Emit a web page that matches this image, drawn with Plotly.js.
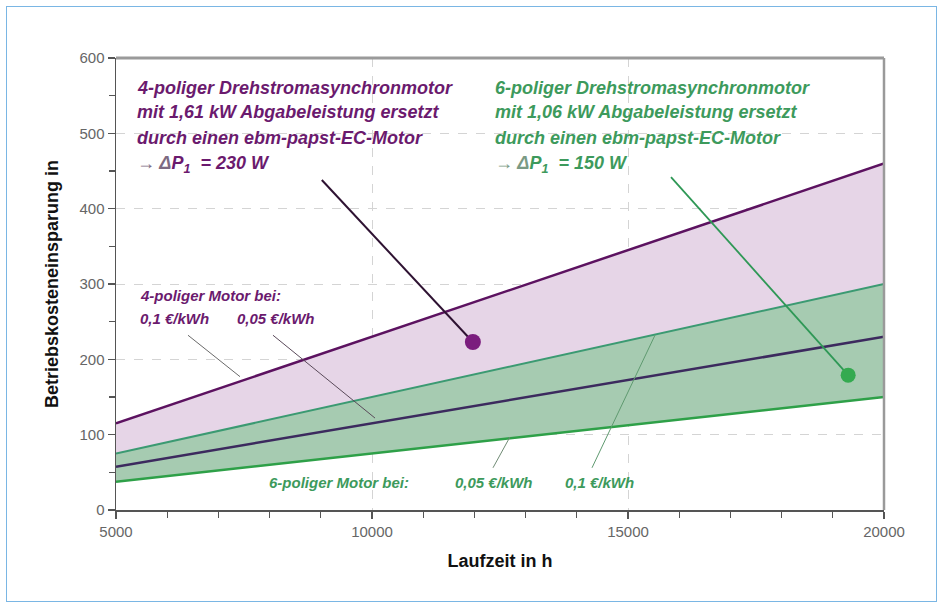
<!DOCTYPE html>
<html>
<head>
<meta charset="utf-8">
<script src="https://cdn.plot.ly/plotly-3.0.1.min.js"></script>
<style>
  html, body { margin: 0; padding: 0; background: #ffffff; }
  #chart { width: 942px; height: 608px; }
  #frame { position: absolute; left: 6px; top: 6px; width: 929px; height: 594px;
           border: 1px solid #7ab6e4; pointer-events: none; }
</style>
</head>
<body>
<div id="chart"></div>
<div id="frame"></div>
<script>
// ---- data ----
const hours = [5000, 10000, 15000, 20000];
const pol4_010 = [115, 230, 345, 460];     // 4-poliger Motor, 0,1 €/kWh
const pol4_005 = [57.5, 115, 172.5, 230];  // 4-poliger Motor, 0,05 €/kWh
const pol6_010 = [75, 150, 225, 300];      // 6-poliger Motor, 0,1 €/kWh
const pol6_005 = [37.5, 75, 112.5, 150];   // 6-poliger Motor, 0,05 €/kWh

// callout pointers (start of line, dot)
const ptr4_x = [9020, 11970];
const ptr4_y = [438, 223];
const ptr6_x = [15840, 19300];
const ptr6_y = [442, 179];

// leader lines for the small labels
const lead4_010_x = [6406, 7422];  const lead4_010_y = [232, 177];
const lead4_005_x = [8066, 10059]; const lead4_005_y = [232, 122];
const lead6_005_x = [12363, 12695]; const lead6_005_y = [56, 97];
const lead6_010_x = [14297, 15527]; const lead6_010_y = [56, 232];

const purple = '#6b1a6e';
const green = '#3d9a5c';
const FONT = 'Liberation Sans, Arial, sans-serif';

const traces = [
  // purple band
  {x: hours, y: pol4_005, mode: 'lines', line: {width: 0, color: 'rgba(0,0,0,0)'}},
  {x: hours, y: pol4_010, mode: 'lines', fill: 'tonexty', fillcolor: '#e6d5e7', line: {width: 0, color: 'rgba(0,0,0,0)'}},
  // green band
  {x: hours, y: pol6_005, mode: 'lines', line: {width: 0, color: 'rgba(0,0,0,0)'}},
  {x: hours, y: pol6_010, mode: 'lines', fill: 'tonexty', fillcolor: '#a6cbb1', line: {width: 0, color: 'rgba(0,0,0,0)'}},
  // lines
  {x: hours, y: pol6_010, mode: 'lines', line: {width: 2, color: '#3b9a72'}},
  {x: hours, y: pol6_005, mode: 'lines', line: {width: 2.5, color: '#2ea048'}},
  {x: hours, y: pol4_005, mode: 'lines', line: {width: 2.5, color: '#3c2a5e'}},
  {x: hours, y: pol4_010, mode: 'lines', line: {width: 2.5, color: '#5c1260'}},
  // leader lines
  {x: lead4_010_x, y: lead4_010_y, mode: 'lines', line: {width: 1, color: '#6a6a6a'}},
  {x: lead4_005_x, y: lead4_005_y, mode: 'lines', line: {width: 1, color: '#5a4a5a'}},
  {x: lead6_005_x, y: lead6_005_y, mode: 'lines', line: {width: 1, color: '#6f8a74'}},
  {x: lead6_010_x, y: lead6_010_y, mode: 'lines', line: {width: 1, color: '#5f9a70'}},
  // callout pointers
  {x: ptr4_x, y: ptr4_y, mode: 'lines', line: {width: 2, color: '#2e1232'}},
  {x: [ptr4_x[1]], y: [ptr4_y[1]], mode: 'markers', marker: {size: 16, color: '#7b1d7e'}},
  {x: ptr6_x, y: ptr6_y, mode: 'lines', line: {width: 1.8, color: '#2f9856'}},
  {x: [ptr6_x[1]], y: [ptr6_y[1]], mode: 'markers', marker: {size: 15, color: '#34aa50'}}
];

function ann(x, y, text, color, size) {
  return {x: x, y: y, xref: 'x', yref: 'y', text: text, showarrow: false,
          xanchor: 'left', yanchor: 'middle',
          font: {family: FONT, size: size, color: color, style: 'italic', weight: 'bold'}};
}

const annotations = [
  ann(5371, 560, '4-poliger Drehstromasynchronmotor', purple, 18),
  ann(5371, 528, 'mit 1,61 kW Abgabeleistung ersetzt', purple, 18),
  ann(5371, 494, 'durch einen ebm-papst-EC-Motor', purple, 18),
  ann(5371, 458, '<span style="color:#7d6a82">→ Δ</span>P<sub>1</sub>  = 230 W', purple, 18),
  ann(12363, 560, '6-poliger Drehstromasynchronmotor', green, 18),
  ann(12363, 528, 'mit 1,06 kW Abgabeleistung ersetzt', green, 18),
  ann(12363, 494, 'durch einen ebm-papst-EC-Motor', green, 18),
  ann(12363, 458, '<span style="color:#7a9a84">→ Δ</span>P<sub>1</sub>  = 150 W', green, 18),
  ann(5430, 285, '4-poliger Motor bei:', purple, 15),
  ann(5430, 254, '0,1 €/kWh', purple, 15),
  ann(7324, 254, '0,05 €/kWh', purple, 15),
  ann(7949, 36, '6-poliger Motor bei:', green, 15),
  ann(11582, 36, '0,05 €/kWh', green, 15),
  ann(13730, 36, '0,1 €/kWh', green, 15)
];

const layout = {
  width: 942, height: 608,
  margin: {l: 116, r: 58, t: 58, b: 98},
  paper_bgcolor: '#ffffff', plot_bgcolor: '#ffffff',
  showlegend: false, hovermode: false,
  font: {family: FONT},
  separators: ',.',
  xaxis: {
    range: [5000, 20000], tick0: 5000, dtick: 5000, tickformat: 'd',
    ticks: 'outside', ticklen: 7, tickwidth: 1.2, tickcolor: '#555',
    showline: true, linecolor: '#555', linewidth: 1.5,
    showgrid: true, gridcolor: '#d4d4d4', griddash: 'dash', gridwidth: 1,
    zeroline: false,
    minor: {dtick: 1000, ticks: 'outside', ticklen: 6, tickcolor: '#555', showgrid: false},
    tickfont: {family: FONT, size: 15, color: '#666'},
    title: {text: 'Laufzeit in h', standoff: 16,
            font: {family: FONT, size: 18, color: '#111', weight: 'bold'}}
  },
  yaxis: {
    range: [0, 600], tick0: 0, dtick: 100, tickformat: 'd',
    ticks: 'outside', ticklen: 7, tickwidth: 1.2, tickcolor: '#555',
    showline: true, linecolor: '#555', linewidth: 1.5,
    showgrid: true, gridcolor: '#d4d4d4', griddash: 'dash', gridwidth: 1,
    zeroline: false,
    minor: {dtick: 50, ticks: 'outside', ticklen: 6, tickcolor: '#555', showgrid: false},
    tickfont: {family: FONT, size: 15, color: '#666'},
    title: {text: 'Betriebskosteneinsparung in', standoff: 16,
            font: {family: FONT, size: 18, color: '#111', weight: 'bold'}}
  },
  shapes: [
    {type: 'line', xref: 'paper', yref: 'paper', x0: 0, x1: 1, y0: 1, y1: 1,
     line: {color: '#9a9a9a', width: 3}},
    {type: 'line', xref: 'paper', yref: 'paper', x0: 1, x1: 1, y0: 0, y1: 1,
     line: {color: '#9a9a9a', width: 2.5}}
  ],
  annotations: annotations
};

Plotly.newPlot('chart', traces, layout, {staticPlot: true, displayModeBar: false});
</script>
</body>
</html>
